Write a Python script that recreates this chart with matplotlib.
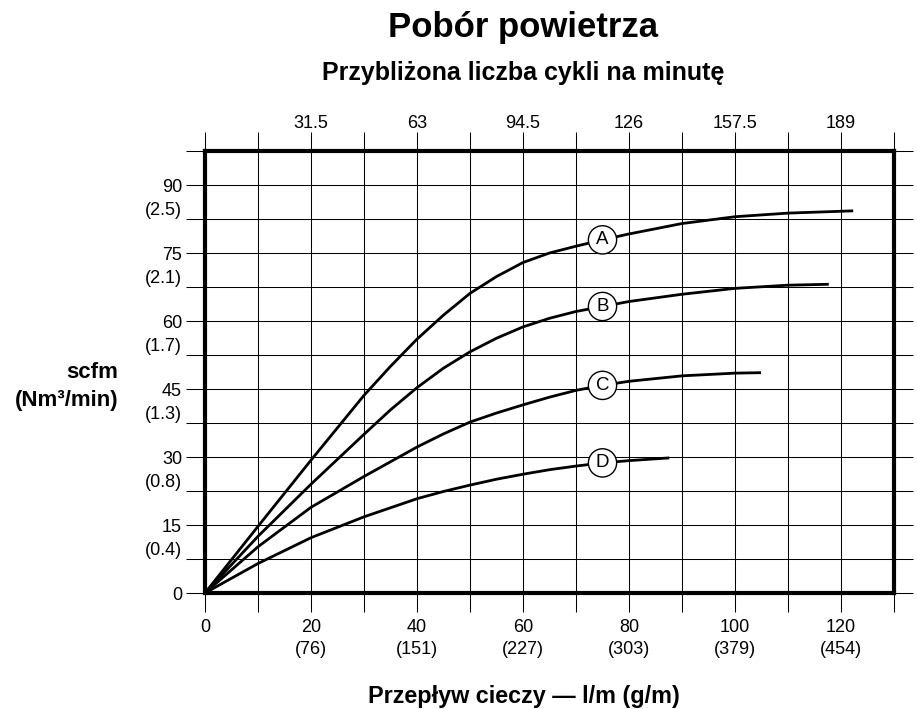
import matplotlib
matplotlib.use("Agg")
import matplotlib.pyplot as plt
from matplotlib.ticker import NullLocator
import numpy as np

plt.rcParams['font.family'] = ['Liberation Sans', 'DejaVu Sans']

# flow in l/m (x), air consumption in scfm (y)
flow_a = [0, 10, 20, 30, 35, 40, 45, 50, 55, 60, 65, 70, 75, 80, 90, 100, 110, 122.3]
air_a = [0, 14.7, 29.3, 43.6, 50.0, 56.0, 61.3, 66.1, 69.8, 72.9, 75.0, 76.5, 77.9, 79.2, 81.5, 83.0, 83.8, 84.3]
flow_b = [0, 10, 20, 30, 35, 40, 45, 50, 55, 60, 65, 70, 75, 80, 90, 100, 110, 117.7]
air_b = [0, 12.5, 24.0, 35.0, 40.4, 45.3, 49.6, 53.2, 56.2, 58.7, 60.6, 62.1, 63.2, 64.3, 65.9, 67.2, 67.9, 68.1]
flow_c = [0, 10, 20, 30, 40, 45, 50, 55, 60, 65, 70, 75, 80, 90, 100, 104.9]
air_c = [0, 10.2, 18.9, 25.7, 32.2, 35.1, 37.7, 39.7, 41.5, 43.2, 44.7, 45.8, 46.7, 47.9, 48.5, 48.6]
flow_d = [0, 10, 20, 30, 40, 45, 50, 55, 60, 65, 70, 75, 80, 87.6]
air_d = [0, 6.5, 12.2, 16.8, 20.8, 22.4, 23.8, 25.1, 26.2, 27.2, 28.0, 28.7, 29.2, 29.8]
curve_names = ['A', 'B', 'C', 'D']
label_flow = 75

x_ticks = list(range(0, 131, 10))
bottom_labels = ['0', '', '20\n(76)', '', '40\n(151)', '', '60\n(227)', '',
                 '80\n(303)', '', '100\n(379)', '', '120\n(454)', '']
top_labels = ['', '', '31.5', '', '63', '', '94.5', '', '126', '', '157.5', '', '189', '']
y_major = [0, 15, 30, 45, 60, 75, 90]
y_major_labels = ['0', '15', '30', '45', '60', '75', '90']
y_minor = [7.5, 22.5, 37.5, 52.5, 67.5, 82.5, 97.5]
y_minor_labels = ['(0.4)', '(0.8)', '(1.3)', '(1.7)', '(2.1)', '(2.5)', '']

fig = plt.figure(figsize=(9.17, 7.09), dpi=100)
ax = fig.add_axes([205 / 917, 1 - 593 / 709, 689 / 917, 442 / 709])
ax.set_xlim(0, 130)
ax.set_ylim(0, 97.5)

tick_len = 13.5
ax.set_xticks(x_ticks, bottom_labels)
ax.xaxis.set_minor_locator(NullLocator())
ax.set_yticks(y_major, y_major_labels)
ax.set_yticks(y_minor, y_minor_labels, minor=True)
ax.tick_params(axis='x', which='both', direction='out', length=tick_len, width=0.75,
               color='black', labelsize=13, pad=5)
ax.tick_params(axis='y', which='both', direction='out', length=tick_len, width=0.75,
               color='black', labelsize=13, pad=3, right=True)
for t in ax.get_xticklabels():
    t.set_linespacing(1.4)
for t in ax.get_yticklabels(minor=True):
    t.set_verticalalignment('bottom')

sec = ax.secondary_xaxis('top')
sec.set_xticks(x_ticks, top_labels)
sec.tick_params(direction='out', length=tick_len, width=0.75, color='black',
                labelsize=13, pad=0)
sec.spines['top'].set_visible(False)

ax.grid(True, which='both', color='black', linewidth=0.75, zorder=1)
ax.set_axisbelow(True)
for s in ax.spines.values():
    s.set_linewidth(3)
    s.set_zorder(5)

curves = [(flow_a, air_a), (flow_b, air_b), (flow_c, air_c), (flow_d, air_d)]
for name, (fx, fy) in zip(curve_names, curves):
    ax.plot(fx, fy, color='black', linewidth=2, solid_capstyle='butt',
            solid_joinstyle='round', zorder=3)
    ly = np.interp(label_flow, fx, fy)
    ax.text(label_flow, ly, name, ha='center', va='center', fontsize=13.5, zorder=4,
            bbox=dict(boxstyle='circle,pad=0.3', facecolor='white',
                      edgecolor='black', linewidth=1))

fig.text(523 / 917, 1 - 37 / 709, 'Pobór powietrza', ha='center', va='baseline',
         fontsize=25, fontweight='bold')
fig.text(523 / 917, 1 - 80 / 709, 'Przybliżona liczba cykli na minutę', ha='center',
         va='baseline', fontsize=18, fontweight='bold')
fig.text(524 / 917, 1 - 703 / 709, 'Przepływ cieczy — l/m (g/m)', ha='center',
         va='baseline', fontsize=16.8, fontweight='bold')
fig.text(118 / 917, 1 - 378 / 709, 'scfm', ha='right', va='baseline',
         fontsize=16, fontweight='bold')
fig.text(118 / 917, 1 - 406 / 709, '(Nm³/min)', ha='right', va='baseline',
         fontsize=16, fontweight='bold')

fig.savefig('out.png', dpi=100)
